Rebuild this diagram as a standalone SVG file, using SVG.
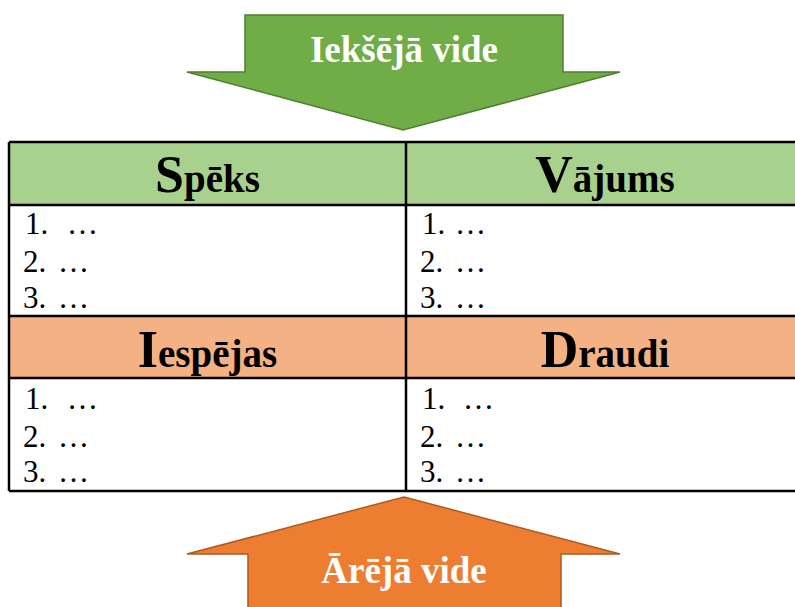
<svg xmlns="http://www.w3.org/2000/svg" width="795" height="607" viewBox="0 0 795 607">
<style>
.hd{font-family:"Liberation Serif","Times New Roman",serif;font-weight:bold;font-size:39px;fill:#000;text-anchor:middle}
.cap{font-size:52px}
.li{font-family:"Liberation Serif","Times New Roman",serif;font-size:31px;fill:#000}
.al{font-family:"Liberation Serif","Times New Roman",serif;font-weight:bold;font-size:37px;fill:#fff;text-anchor:middle}
.grid{stroke:#000;stroke-width:2.5;fill:none}
</style>
<rect width="795" height="607" fill="#fff"/>
<g id="arrow-top">
<polygon points="245,15 563,15 563,72 620,72 403,130 187,72 245,72" fill="#70AD47" stroke="#507E32" stroke-width="1.5"/>
<text class="al" x="404" y="62">Iekšējā vide</text>
</g>
<g id="arrow-bottom">
<polygon points="404,497 620,554 561,554 561,610 248,610 248,554 187,554" fill="#ED7D31" stroke="#AE5A21" stroke-width="1.5"/>
<text class="al" x="404" y="583">Ārējā vide</text>
</g>
<g id="table">
<rect x="9" y="142" width="800" height="63" fill="#A9D18E"/>
<rect x="9" y="316" width="800" height="62" fill="#F4B183"/>
<g class="grid">
<path d="M9,142 H810 M9,205 H810 M9,316 H810 M9,378 H810 M9,491 H810 M9,142 V491 M406,142 V491"/>
</g>
</g>
<g id="node-speks">
<text class="hd" x="207.5" y="192"><tspan class="cap">S</tspan>pēks</text>
<text class="li" x="25" y="234">1.<tspan x="67">…</tspan></text>
<text class="li" x="23" y="272">2.<tspan x="58">…</tspan></text>
<text class="li" x="23" y="308">3.<tspan x="58">…</tspan></text>
</g>
<g id="node-vajums">
<text class="hd" x="605" y="192"><tspan class="cap">V</tspan>ājums</text>
<text class="li" x="422" y="234">1.<tspan x="455">…</tspan></text>
<text class="li" x="420" y="272">2.<tspan x="455">…</tspan></text>
<text class="li" x="420" y="308">3.<tspan x="455">…</tspan></text>
</g>
<g id="node-iespejas">
<text class="hd" x="207.5" y="367"><tspan class="cap">I</tspan>espējas</text>
<text class="li" x="25" y="409">1.<tspan x="67">…</tspan></text>
<text class="li" x="23" y="447">2.<tspan x="58">…</tspan></text>
<text class="li" x="23" y="482">3.<tspan x="58">…</tspan></text>
</g>
<g id="node-draudi">
<text class="hd" x="605" y="367"><tspan class="cap">D</tspan>raudi</text>
<text class="li" x="422" y="409">1.<tspan x="463">…</tspan></text>
<text class="li" x="420" y="447">2.<tspan x="455">…</tspan></text>
<text class="li" x="420" y="482">3.<tspan x="455">…</tspan></text>
</g>
</svg>
